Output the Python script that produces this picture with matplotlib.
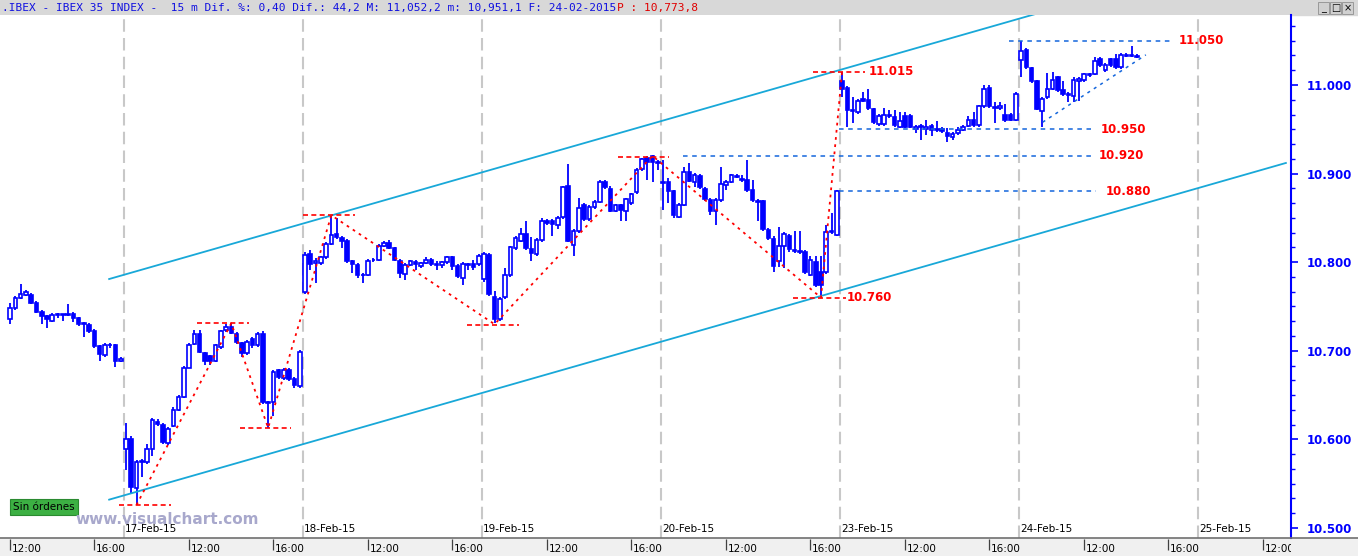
import matplotlib
matplotlib.use("Agg")
import matplotlib.pyplot as plt
from matplotlib.patches import Rectangle
from matplotlib.lines import Line2D
from matplotlib.ticker import MultipleLocator

# ---- data (15 min IBEX 35 bars, index 0 = 16-Feb 09:00, 34 bars per session) ----
first_bar = 12
opens = [
    # 16-Feb
    10736, 10748, 10760, 10763, 10763, 10754, 10744, 10739, 10734, 10740, 10741, 10740, 10742, 10737, 10730, 10729,
    10722, 10705, 10695, 10707, 10706, 10689,
    # 17-Feb
    10589, 10601, 10545, 10574, 10574, 10589, 10620, 10616, 10596, 10615, 10633, 10648, 10681, 10708, 10719, 10697,
    10694, 10689, 10704, 10723, 10727, 10719, 10709, 10697, 10713, 10706, 10719, 10642, 10642, 10678, 10669, 10678,
    10668, 10660,
    # 18-Feb
    10766, 10809, 10799, 10799, 10806, 10821, 10832, 10827, 10824, 10801, 10797, 10785, 10786, 10802, 10803, 10818,
    10822, 10816, 10801, 10787, 10797, 10800, 10796, 10799, 10803, 10798, 10797, 10800, 10806, 10796, 10782, 10798,
    10798, 10798,
    # 19-Feb
    10781, 10808, 10761, 10736, 10761, 10785, 10816, 10824, 10832, 10815, 10809, 10825, 10847, 10847, 10842, 10851,
    10886, 10819, 10835, 10864, 10849, 10862, 10868, 10891, 10883, 10858, 10864, 10858, 10867, 10879, 10905, 10918,
    10920, 10912,
    # 20-Feb
    10890, 10890, 10880, 10851, 10865, 10902, 10891, 10897, 10883, 10870, 10858, 10870, 10887, 10891, 10897, 10894,
    10893, 10882, 10869, 10869, 10836, 10826, 10801, 10818, 10830, 10814, 10813, 10811, 10786, 10800, 10789, 10789,
    10834, 10831,
    # 23-Feb
    11004, 10997, 10971, 10969, 10984, 10983, 10973, 10956, 10956, 10965, 10964, 10953, 10965, 10965, 10950, 10953,
    10950, 10954, 10950, 10950, 10946, 10941, 10946, 10949, 10954, 10961, 10955, 10976, 10997, 10975, 10974, 10966,
    10966, 10961,
    # 24-Feb
    11028, 11040, 11019, 11005, 10971, 10986, 10996, 11009, 10994, 10990, 10988, 11005, 11006, 11011, 11012, 11029,
    11017, 11029, 11029, 11020, 11033, 11034, 11033,
]
highs = [
    10754, 10762, 10775, 10769, 10765, 10756, 10746, 10740, 10743, 10743, 10742, 10753, 10744, 10738, 10733, 10731,
    10725, 10707, 10709, 10709, 10708, 10693,
    10618, 10604, 10577, 10578, 10595, 10624, 10623, 10619, 10614, 10636, 10650, 10683, 10709, 10723, 10724, 10699,
    10695, 10708, 10724, 10730, 10731, 10721, 10710, 10712, 10716, 10721, 10722, 10643, 10678, 10679, 10681, 10681,
    10670, 10701,
    10812, 10814, 10805, 10807, 10823, 10853, 10850, 10830, 10826, 10803, 10799, 10788, 10804, 10805, 10821, 10824,
    10825, 10817, 10804, 10799, 10803, 10803, 10800, 10806, 10805, 10801, 10801, 10807, 10807, 10798, 10800, 10799,
    10803, 10809,
    10812, 10810, 10767, 10761, 10794, 10818, 10829, 10839, 10847, 10828, 10827, 10850, 10849, 10849, 10852, 10886,
    10911, 10838, 10873, 10867, 10865, 10870, 10893, 10893, 10886, 10866, 10866, 10873, 10878, 10906, 10918, 10920,
    10921, 10915,
    10915, 10895, 10882, 10867, 10907, 10912, 10901, 10900, 10885, 10873, 10873, 10908, 10893, 10900, 10900, 10898,
    10915, 10893, 10871, 10870, 10839, 10829, 10840, 10834, 10832, 10835, 10835, 10814, 10807, 10807, 10807, 10842,
    10855, 10882,
    11015, 10999, 10987, 10984, 10992, 10996, 10974, 10967, 10974, 10972, 10972, 10970, 10970, 10967, 10955, 10956,
    10961, 10956, 10959, 10953, 10951, 10947, 10953, 10955, 10965, 10970, 10977, 11000, 11000, 10981, 10981, 10978,
    10968, 10992,
    11050, 11042, 11020, 11006, 10986, 11013, 11015, 11010, 11005, 10992, 11009, 11009, 11013, 11014, 11032, 11032,
    11025, 11030, 11035, 11036, 11036, 11044, 11035,
]
lows = [
    10730, 10746, 10759, 10762, 10753, 10743, 10730, 10726, 10733, 10737, 10734, 10739, 10733, 10728, 10716, 10720,
    10703, 10688, 10693, 10703, 10682, 10687,
    10566, 10539, 10526, 10558, 10572, 10581, 10615, 10595, 10594, 10614, 10632, 10647, 10681, 10707, 10698, 10684,
    10684, 10687, 10702, 10721, 10719, 10708, 10693, 10695, 10703, 10704, 10640, 10613, 10626, 10668, 10667, 10666,
    10658, 10658,
    10764, 10791, 10776, 10797, 10804, 10819, 10826, 10816, 10799, 10788, 10782, 10776, 10784, 10800, 10801, 10817,
    10815, 10801, 10782, 10780, 10796, 10791, 10793, 10798, 10796, 10791, 10793, 10798, 10791, 10782, 10774, 10791,
    10791, 10796,
    10778, 10762, 10731, 10734, 10759, 10783, 10814, 10823, 10814, 10801, 10807, 10823, 10842, 10830, 10837, 10849,
    10823, 10807, 10833, 10847, 10847, 10860, 10867, 10883, 10857, 10857, 10846, 10846, 10865, 10877, 10903, 10893,
    10890, 10904,
    10859, 10867, 10850, 10850, 10863, 10891, 10885, 10883, 10869, 10853, 10842, 10868, 10882, 10889, 10895, 10891,
    10879, 10868, 10846, 10835, 10825, 10789, 10795, 10793, 10812, 10810, 10809, 10787, 10784, 10772, 10761, 10787,
    10832, 10829,
    10987, 10953, 10957, 10967, 10981, 10972, 10956, 10954, 10954, 10963, 10953, 10952, 10952, 10952, 10946, 10938,
    10944, 10942, 10947, 10946, 10936, 10938, 10944, 10948, 10953, 10953, 10953, 10974, 10974, 10957, 10972, 10958,
    10959, 10959,
    11009, 11018, 11002, 10972, 10953, 10984, 10994, 10992, 10988, 10981, 10981, 10982, 11003, 11009, 11011, 11020,
    11015, 11020, 11018, 11018, 11032, 11032, 11030,
]
closes = [
    10748, 10760, 10764, 10766, 10754, 10744, 10739, 10736, 10740, 10741, 10740, 10742, 10737, 10730, 10731, 10722,
    10705, 10696, 10707, 10706, 10689, 10691,
    10601, 10546, 10574, 10576, 10589, 10622, 10617, 10597, 10612, 10633, 10648, 10681, 10707, 10719, 10699, 10689,
    10689, 10706, 10722, 10727, 10720, 10710, 10698, 10710, 10706, 10719, 10642, 10641, 10676, 10670, 10678, 10668,
    10661, 10699,
    10808, 10798, 10801, 10806, 10821, 10831, 10828, 10824, 10801, 10798, 10786, 10786, 10801, 10803, 10818, 10822,
    10816, 10803, 10788, 10797, 10801, 10798, 10799, 10803, 10798, 10797, 10800, 10806, 10796, 10784, 10798, 10797,
    10795, 10807,
    10809, 10764, 10736, 10758, 10785, 10817, 10827, 10832, 10816, 10810, 10825, 10847, 10844, 10843, 10850, 10885,
    10824, 10835, 10861, 10849, 10862, 10868, 10891, 10885, 10858, 10864, 10859, 10871, 10877, 10904, 10916, 10913,
    10913, 10913,
    10889, 10880, 10853, 10865, 10902, 10892, 10898, 10885, 10871, 10858, 10870, 10888, 10891, 10898, 10896, 10893,
    10881, 10870, 10868, 10838, 10827, 10796, 10818, 10832, 10815, 10813, 10812, 10789, 10803, 10774, 10774, 10834,
    10835, 10880,
    10996, 10972, 10972, 10982, 10982, 10974, 10958, 10965, 10966, 10966, 10955, 10959, 10953, 10953, 10953, 10954,
    10953, 10949, 10949, 10948, 10942, 10945, 10949, 10953, 10961, 10955, 10976, 10996, 10976, 10974, 10976, 10960,
    10961, 10990,
    11038, 11020, 11005, 10973, 10984, 10996, 11006, 10994, 10990, 10989, 11006, 11007, 11012, 11012, 11027, 11023,
    11023, 11023, 11020, 11034, 11034, 11033, 11032,
]

# sessions
day_starts = [34, 68, 102, 136, 170, 204, 238]
day_labels = ["17-Feb-15", "18-Feb-15", "19-Feb-15", "20-Feb-15", "23-Feb-15", "24-Feb-15", "25-Feb-15"]
hour_ticks = [12, 28, 46, 62, 80, 96, 114, 130, 148, 164, 182, 198, 216, 232, 250]
hour_labels = ["12:00", "16:00"] * 7 + ["12:00"]

# drawn studies
channel_x = [30.8, 254.3]
channel_low = [10532, 10912]
channel_high = [10781, 11161]
zigzag_x = [36, 54, 61, 73, 104, 134, 166, 170]
zigzag_y = [10526, 10731, 10613, 10853, 10730, 10920, 10760, 11015]
red_lvl = [10526, 10731, 10613, 10853, 10729, 10919, 10760, 11015]
red_x0 = [32.7, 47.5, 55.7, 67.6, 98.8, 127.4, 160.7, 164.5]
red_x1 = [42.5, 57.4, 65.3, 77.5, 108.6, 137.1, 170.8, 174.4]
blue_lvl = [11050, 10950, 10920, 10880]
blue_x0 = [201.7, 169.4, 139.8, 169.4]
blue_x1 = [232.5, 217.3, 217.3, 218.2]
label_text = ["11.050", "11.015", "10.950", "10.920", "10.880", "10.760"]
label_x = [234.0, 175.0, 219.2, 218.8, 220.1, 170.8]
label_y = [11050, 11015, 10950, 10920, 10880, 10760]
triangle_x = [208.1, 227.7]
triangle_y = [10958, 11034]

price_ticks = [10500, 10600, 10700, 10800, 10900, 11000]
price_labels = ["10.500", "10.600", "10.700", "10.800", "10.900", "11.000"]

BLUE = "#0000FF"
W, H = 1358, 556
x_left, x_right = 10.07, 255.27
y_bot, y_top = 10488.7, 11079.0

fig = plt.figure(figsize=(W / 100, H / 100), dpi=100)
fig.patch.set_facecolor("white")
ax = fig.add_axes([0, 18 / H, 1291 / W, 523 / H])
ax.set_xlim(x_left, x_right)
ax.set_ylim(y_bot, y_top)

# day separators + date labels
for d, lab in zip(day_starts, day_labels):
    ax.axvline(d - 0.4, color="#C8C8C8", lw=1.5, ls=(0, (6, 3)), zorder=1)
    ax.text(d - 0.2, 0.008, lab, transform=ax.get_xaxis_transform(), fontsize=7.5,
            ha="left", va="bottom", color="black", zorder=1)

# candles
xs = list(range(first_bar, first_bar + len(opens)))
ax.vlines(xs, lows, highs, color=BLUE, lw=1.3, zorder=2)
bottoms = [min(o, c) for o, c in zip(opens, closes)]
heights = [max(abs(c - o), 0.9) for o, c in zip(opens, closes)]
faces = ["white" if c >= o else BLUE for o, c in zip(opens, closes)]
ax.bar(xs, heights, bottom=bottoms, width=0.68, color=faces, edgecolor=BLUE, linewidth=1.2, zorder=3)

# channel
ax.plot(channel_x, channel_low, color="#18A8D8", lw=1.3, zorder=4)
ax.plot(channel_x, channel_high, color="#18A8D8", lw=1.3, zorder=4)

# zigzag and swing levels
ax.plot(zigzag_x, zigzag_y, color="red", lw=1.3, ls=(0, (1.5, 2.5)), zorder=5)
ax.hlines(red_lvl, red_x0, red_x1, color="red", lw=1.2, ls=(0, (3, 2)), zorder=5)
ax.hlines(blue_lvl, blue_x0, blue_x1, color="#1466DC", lw=1.1, ls=(0, (3, 3)), zorder=5)
ax.plot(triangle_x, triangle_y, color="#1466DC", lw=1.1, ls=(0, (2, 3)), zorder=5)
for t, x, y in zip(label_text, label_x, label_y):
    ax.text(x, y, t, color="red", fontsize=8.5, fontweight="bold", ha="left", va="center", zorder=6)

# price axis on the right
ax.yaxis.tick_right()
ax.set_yticks(price_ticks)
ax.set_yticklabels(price_labels)
ax.yaxis.set_minor_locator(MultipleLocator(100 / 6))
ax.tick_params(axis="y", which="major", length=5, width=1.2, color=BLUE, labelcolor=BLUE,
               labelsize=8.5, pad=6)
ax.tick_params(axis="y", which="minor", length=3, width=1.0, color=BLUE)
plt.setp(ax.get_yticklabels(), fontweight="bold")
ax.set_xticks([])
for side in ["left", "top", "bottom"]:
    ax.spines[side].set_visible(False)
ax.spines["right"].set_color(BLUE)
ax.spines["right"].set_linewidth(1.5)

# time strip at the bottom
fig.add_artist(Rectangle((0, 0), 1, 18 / H, transform=fig.transFigure, color="#F0F0F0", zorder=0))
fig.add_artist(Line2D([0, 1], [18 / H, 18 / H], transform=fig.transFigure, color="#707070", lw=1.2))
ax2 = fig.add_axes([0, 0, 1291 / W, 17 / H])
ax2.set_xlim(x_left, x_right)
ax2.set_ylim(0, 1)
ax2.axis("off")
ax2.vlines(hour_ticks, 0.35, 1.0, color="#404040", lw=0.9)
for x, lab in zip(hour_ticks, hour_labels):
    ax2.text(x + 0.3, 0.42, lab, fontsize=7.5, ha="left", va="center", color="black", clip_on=True)

# header bar
fig.add_artist(Rectangle((0, 1 - 15 / H), 1, 15 / H, transform=fig.transFigure, color="#D8D8D8", zorder=0))
fig.text(2 / W, 1 - 7.5 / H,
         ".IBEX - IBEX 35 INDEX -  15 m Dif. %: 0,40 Dif.: 44,2 M: 11,052,2 m: 10,951,1 F: 24-02-2015",
         family="DejaVu Sans Mono", fontsize=8, color="#1010E0", va="center", ha="left")
fig.text(617 / W, 1 - 7.5 / H, "P : 10,773,8", family="DejaVu Sans Mono", fontsize=8,
         color="#E00000", va="center", ha="left")
for bx, glyph in zip([1318, 1330, 1342], ["_", "□", "×"]):
    fig.add_artist(Rectangle((bx / W, 1 - 14 / H), 11 / W, 12 / H, transform=fig.transFigure,
                             facecolor="#D0D0D0", edgecolor="#909090", lw=0.6))
    fig.text((bx + 5.5) / W, 1 - 8 / H, glyph, fontsize=7, ha="center", va="center", color="black")

# order box and watermark
fig.add_artist(Rectangle((10 / W, 1 - 515 / H), 68 / W, 16 / H, transform=fig.transFigure,
                         facecolor="#3CB043", edgecolor="#2A8A30", lw=0.8))
fig.text(13 / W, 1 - 507 / H, "Sin órdenes", fontsize=7.5, color="black", va="center", ha="left")
fig.text(75 / W, 1 - 520 / H, "www.visualchart.com", fontsize=11, fontweight="bold",
         color="#A8A8CC", va="center", ha="left")

fig.savefig("out.png", dpi=100)
